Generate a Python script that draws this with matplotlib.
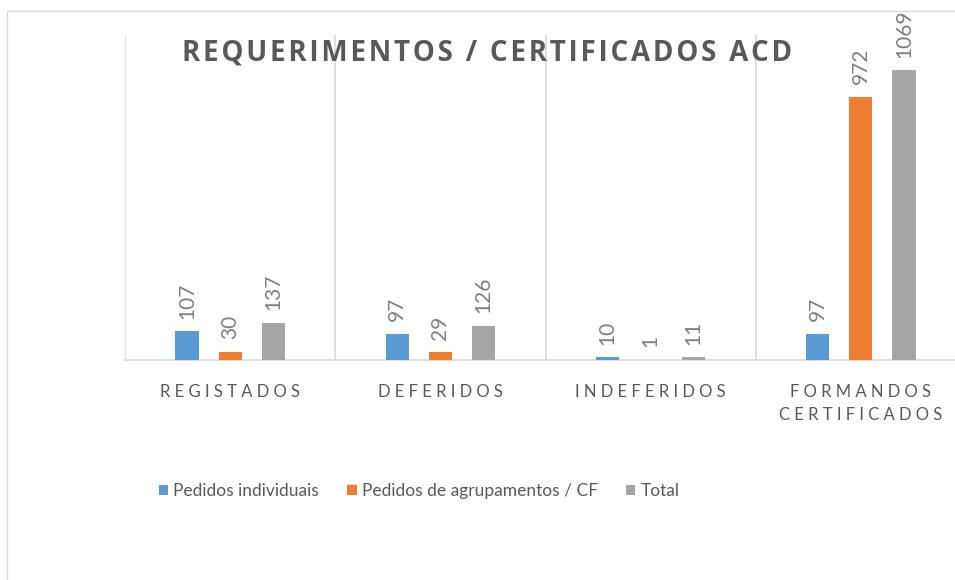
import numpy as np
import matplotlib.pyplot as plt
from matplotlib.patches import Rectangle

categories = ['REGISTADOS', 'DEFERIDOS', 'INDEFERIDOS', 'FORMANDOS\nCERTIFICADOS']
series_names = ['Pedidos individuais', 'Pedidos de agrupamentos / CF', 'Total']
individuais = [107, 97, 10, 97]
agrupamentos = [30, 29, 1, 972]
total = [137, 126, 11, 1069]
colors = ['#5b9bd5', '#ed7d31', '#a5a5a5']
title = 'REQUERIMENTOS / CERTIFICADOS ACD'

plt.rcParams['font.family'] = ['Lato', 'DejaVu Sans']


def spaced(text, sep=' '):
    # fake excel letter spacing
    return '\n'.join(sep.join(line) for line in text.split('\n'))


fig = plt.figure(figsize=(9.55, 5.8), dpi=100)
fig.patches.append(Rectangle((7 / 955, -0.1), 1.2, (580 - 11) / 580 + 0.1,
                             transform=fig.transFigure, fill=False,
                             edgecolor='#d9d9d9', linewidth=1))

ax = fig.add_axes([125 / 955, 220 / 580, 841 / 955, 325 / 580])
ax.set_clip_on(False)

x = np.arange(len(categories))
offsets = [-0.205, 0, 0.205]
width = 0.11
for vals, off, col, name in zip([individuais, agrupamentos, total], offsets, colors, series_names):
    bars = ax.bar(x + off, vals, width, color=col, label=name, zorder=3)
    for b, v in zip(bars, vals):
        ax.annotate(str(v), (b.get_x() + b.get_width() / 2, v), xytext=(0, 9),
                    textcoords='offset points', rotation=90, ha='center', va='bottom',
                    fontsize=15, color='#7f7f7f')

ax.set_xlim(-0.5, 3.5)
ax.set_ylim(0, 1200)
ax.set_yticks([])
ax.set_xticks(x)
ax.set_xticklabels([spaced(c) for c in categories], fontsize=12, color='#595959',
                   linespacing=1.6)
ax.tick_params(axis='x', length=0, pad=17)
ax.set_xticks(np.arange(-0.5, 4, 1), minor=True)
ax.tick_params(axis='x', which='minor', length=0)
ax.grid(axis='x', which='minor', color='#d9d9d9', linewidth=1.2, zorder=0)
for s in ['top', 'right', 'left']:
    ax.spines[s].set_visible(False)
ax.spines['bottom'].set_color('#d9d9d9')
ax.spines['bottom'].set_linewidth(1.2)

fig.text(487 / 955, 1 - 53 / 580, spaced(title, '\u200a'), ha='center', va='center',
         fontsize=20, fontweight='bold', color='#595959',
         family=['Open Sans', 'DejaVu Sans'])

fig.legend(loc='center', bbox_to_anchor=(419 / 955, 1 - 491 / 580), ncol=3, frameon=False,
           fontsize=12.5, labelcolor='#595959', handlelength=0.55, handleheight=0.55,
           handletextpad=0.3, columnspacing=1.6)

fig.savefig('out.png', dpi=100)
